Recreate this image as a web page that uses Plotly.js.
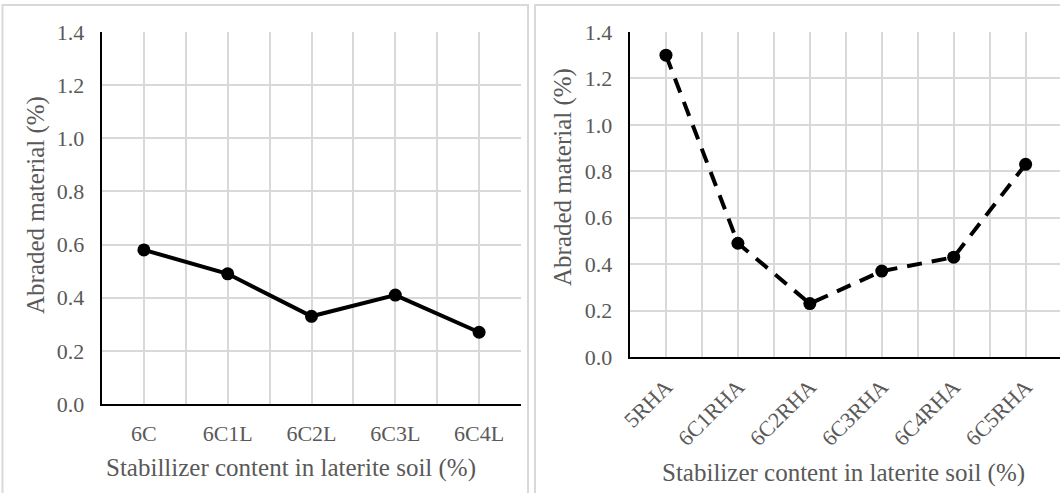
<!DOCTYPE html>
<html>
<head>
<meta charset="utf-8">
<script src="https://cdn.plot.ly/plotly-3.0.1.min.js"></script>
<style>
html,body{margin:0;padding:0;background:#fff;}
#chart{width:1060px;height:493px;}
</style>
</head>
<body>
<div id="chart"></div>
<script>
// Left panel data
const leftCategories = ["6C", "6C1L", "6C2L", "6C3L", "6C4L"];
const leftValues = [0.58, 0.49, 0.33, 0.41, 0.27];
// Right panel data
const rightCategories = ["5RHA", "6C1RHA", "6C2RHA", "6C3RHA", "6C4RHA", "6C5RHA"];
const rightValues = [1.30, 0.49, 0.23, 0.37, 0.43, 0.83];
const yTicks = [0, 0.2, 0.4, 0.6, 0.8, 1.0, 1.2, 1.4];
const yTickText = ["0.0", "0.2", "0.4", "0.6", "0.8", "1.0", "1.2", "1.4"];
const leftXTitle = "Stabillizer content in laterite soil (%)";
const rightXTitle = "Stabilizer content in laterite soil (%)";
const yTitle = "Abraded material (%)";

const W = 1060, H = 493;
const FONT = "Liberation Serif";
const TXT = "#595959";
const GRID = "#d9d9d9";
const px = v => v / W;
const py = v => 1 - v / H;

const leftX = leftCategories.map((c, i) => i);
const rightX = rightCategories.map((c, i) => i);

const traces = [
  {
    x: leftX, y: leftValues, xaxis: "x", yaxis: "y",
    type: "scatter", mode: "lines+markers",
    line: {color: "#000", width: 4},
    marker: {color: "#000", size: 13},
    hoverinfo: "skip", showlegend: false
  },
  {
    x: rightX, y: rightValues, xaxis: "x2", yaxis: "y2",
    type: "scatter", mode: "lines+markers",
    line: {color: "#000", width: 4, dash: "15px,10px"},
    marker: {color: "#000", size: 13},
    hoverinfo: "skip", showlegend: false
  }
];

function xAxis(cats, domain, range, angle, anchor, standoff) {
  return {
    domain: domain, range: range, anchor: anchor,
    tickmode: "array", tickvals: cats.map((c, i) => i), ticktext: cats,
    tickangle: angle,
    showgrid: true, gridcolor: GRID, gridwidth: 2,
    minor: {tickmode: "linear", tick0: 0.5, dtick: 1, showgrid: true, gridcolor: GRID, gridwidth: 2, ticks: ""},
    showline: true, linecolor: "#000", linewidth: 2.3,
    ticks: "", zeroline: false,
    ticklabelstandoff: standoff,
    tickfont: {family: FONT, size: 22, color: TXT},
    fixedrange: true
  };
}
function yAxis(domain, anchor) {
  return {
    domain: domain, range: [0, 1.4], anchor: anchor,
    tickmode: "array", tickvals: yTicks, ticktext: yTickText,
    showgrid: true, gridcolor: GRID, gridwidth: 2,
    showline: true, linecolor: "#000", linewidth: 2.3,
    ticks: "", zeroline: false,
    ticklabelstandoff: 11,
    tickfont: {family: FONT, size: 22, color: TXT},
    fixedrange: true
  };
}

const catW = (1061.6 - 630) / rightCategories.length;
const rightEnd = rightCategories.length - 0.5 - (1061.6 - W) / catW;

function titleAnn(text, x, y, angle) {
  return {
    text: text, xref: "paper", yref: "paper", x: px(x), y: py(y),
    xanchor: "center", yanchor: "middle", showarrow: false, textangle: angle,
    font: {family: FONT, size: 25, color: TXT}
  };
}

const layout = {
  width: W, height: H,
  margin: {l: 0, r: 0, t: 0, b: 0},
  paper_bgcolor: "#fff", plot_bgcolor: "rgba(0,0,0,0)",
  showlegend: false,
  font: {family: FONT, color: TXT},
  xaxis: xAxis(leftCategories, [px(102), px(521)], [-0.5, leftCategories.length - 0.5], 0, "y", 8),
  yaxis: yAxis([py(404), py(32)], "x"),
  xaxis2: xAxis(rightCategories, [px(630), 1], [-0.5, rightEnd], -45, "y2", 6),
  yaxis2: yAxis([py(357), py(32)], "x2"),
  annotations: [
    titleAnn(leftXTitle, 291, 468, 0),
    titleAnn(yTitle, 36, 205, -90),
    titleAnn(rightXTitle, 843, 473, 0),
    titleAnn(yTitle, 563, 177, -90)
  ],
  shapes: [
    {type: "rect", xref: "paper", yref: "paper", x0: px(2.5), x1: px(528), y0: -0.05, y1: py(5),
     line: {color: GRID, width: 2}, layer: "below"},
    {type: "rect", xref: "paper", yref: "paper", x0: px(535), x1: 1.05, y0: -0.05, y1: py(5),
     line: {color: GRID, width: 2}, layer: "below"}
  ]
};

Plotly.newPlot("chart", traces, layout, {staticPlot: true, displayModeBar: false});
</script>
</body>
</html>
